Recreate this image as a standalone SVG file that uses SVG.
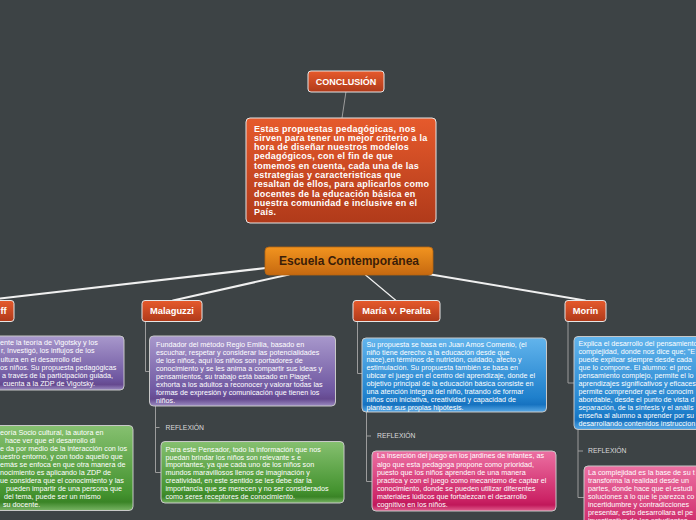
<svg xmlns="http://www.w3.org/2000/svg" width="696" height="520" viewBox="0 0 696 520">
<defs>
<linearGradient id="gRed" x1="0" y1="0" x2="0" y2="1"><stop offset="0" stop-color="#e65a2c"/><stop offset="1" stop-color="#b03a1a"/></linearGradient>
<linearGradient id="gOrange" x1="0" y1="0" x2="0" y2="1"><stop offset="0" stop-color="#f2941f"/><stop offset="1" stop-color="#c66910"/></linearGradient>
<linearGradient id="gPurple" x1="0" y1="0" x2="0" y2="1"><stop offset="0" stop-color="#a898cc"/><stop offset="0.8" stop-color="#6e56a0"/><stop offset="0.9" stop-color="#65498f"/><stop offset="1" stop-color="#9c8cc2"/></linearGradient>
<linearGradient id="gGreen" x1="0" y1="0" x2="0" y2="1"><stop offset="0" stop-color="#86c070"/><stop offset="0.8" stop-color="#44932f"/><stop offset="0.9" stop-color="#3a8426"/><stop offset="1" stop-color="#78b464"/></linearGradient>
<linearGradient id="gBlue" x1="0" y1="0" x2="0" y2="1"><stop offset="0" stop-color="#62b4ec"/><stop offset="0.8" stop-color="#1f80cc"/><stop offset="0.9" stop-color="#1672c0"/><stop offset="1" stop-color="#5aaae6"/></linearGradient>
<linearGradient id="gPink" x1="0" y1="0" x2="0" y2="1"><stop offset="0" stop-color="#ec70a2"/><stop offset="0.8" stop-color="#cc2466"/><stop offset="0.9" stop-color="#c0185a"/><stop offset="1" stop-color="#e2608f"/></linearGradient>
</defs>
<style>
.l1 rect{fill:url(#gRed);stroke:#e6e6e6;stroke-width:1}
.l1 text{font-family:"Liberation Sans",Arial,sans-serif;font-weight:bold;font-size:9.3px;fill:#fff;text-anchor:middle}
.box{stroke:#c8c8c8;stroke-width:1}
.t{font-family:"Liberation Sans",Arial,sans-serif;font-size:7.2px;fill:#fff}
.cb{font-family:"Liberation Sans",Arial,sans-serif;font-size:9px;letter-spacing:0.25px;font-weight:bold;fill:#fff}
.rf{font-family:"Liberation Sans",Arial,sans-serif;font-size:6.8px;fill:#dcdcdc}
.br{fill:none;stroke:#9c9c9c;stroke-width:1}
.main{fill:none;stroke:#f0f0f0;stroke-linecap:round}
</style>
<rect width="696" height="520" fill="#3d4345"/>

<g id="connectors">
<path class="main" d="M266 268 L0 298.5" stroke-width="2.2"/>
<path class="main" d="M289 274.5 L173 300.5" stroke-width="2"/>
<path class="main" d="M365 274.5 L396 300.5" stroke-width="1.2"/>
<path class="main" d="M428 274 L585 300.5" stroke-width="2"/>
<path class="br" d="M346 91.5 L342 118"/>
<path class="br" d="M145.5 321.5 V371.5 H149"/>
<path class="br" d="M155.5 406 V472.5 H161 M155.5 427.5 H159.5"/>
<path class="br" d="M357.5 321.5 V373.5 H362"/>
<path class="br" d="M366.5 412 V481.5 H372 M366.5 436 H371"/>
<path class="br" d="M568 321.5 V383 H574"/>
<path class="br" d="M578 429.5 V497.5 H584 M578 451 H583"/>
</g>

<g id="conclusion">
<rect x="308" y="71" width="76" height="21" rx="3" fill="url(#gRed)" stroke="#e6e6e6"/>
<text x="346" y="84.8" font-family="Liberation Sans,Arial,sans-serif" font-weight="bold" font-size="9px" fill="#fff" text-anchor="middle">CONCLUSIÓN</text>
</g>

<g id="conclusion-text">
<rect x="246" y="118" width="190" height="105" rx="4" fill="url(#gRed)" stroke="#e6e6e6"/>
<text class="cb">
<tspan x="254" y="131.5">Estas propuestas pedagógicas, nos</tspan>
<tspan x="254" y="140.8">sirven para tener un mejor criterio a la</tspan>
<tspan x="254" y="150.1">hora de diseñar nuestros modelos</tspan>
<tspan x="254" y="159.4">pedagógicos, con el fin de que</tspan>
<tspan x="254" y="168.7">tomemos en cuenta, cada una de las</tspan>
<tspan x="254" y="178">estrategias y caracteristicas que</tspan>
<tspan x="254" y="187.3">resaltan de ellos, para aplicarlos como</tspan>
<tspan x="254" y="196.6">docentes de la educación básica en</tspan>
<tspan x="254" y="205.9">nuestra comunidad e inclusive en el</tspan>
<tspan x="254" y="215.2">País.</tspan>
</text>
</g>

<g id="central">
<rect x="265" y="247" width="168" height="28" rx="4" fill="url(#gOrange)" stroke="#b86410" stroke-width="0.8"/>
<text x="349" y="265.3" font-family="Liberation Sans,Arial,sans-serif" font-weight="bold" font-size="12px" fill="#3b1d08" text-anchor="middle">Escuela Contemporánea</text>
</g>

<g id="n-rogoff" class="l1">
<rect x="-40" y="300.5" width="54" height="21" rx="3"/>
<text x="3.5" y="314.3">ff</text>
</g>
<g id="n-malaguzzi" class="l1">
<rect x="142" y="300.5" width="60" height="21" rx="3"/>
<text x="172" y="314.3">Malaguzzi</text>
</g>
<g id="n-peralta" class="l1">
<rect x="353" y="300.5" width="87" height="21" rx="3"/>
<text x="396.5" y="314.3">María V. Peralta</text>
</g>
<g id="n-morin" class="l1">
<rect x="565" y="300.5" width="41" height="21" rx="3"/>
<text x="585.5" y="314.3">Morin</text>
</g>

<g id="rogoff-desc">
<rect class="box" x="-60" y="336" width="184" height="54" rx="4" fill="url(#gPurple)"/>
<text class="t">
<tspan x="0" y="345.3">ente la teoría de Vigotsky y los</tspan>
<tspan x="1" y="353.4">r, Investigó, los influjos de los</tspan>
<tspan x="0.5" y="361.5">ultura en el desarrollo del</tspan>
<tspan x="0" y="369.6">os niños. Su propuesta pedagógicas</tspan>
<tspan x="2" y="377.7">a través de la participación guiada,</tspan>
<tspan x="3" y="385.8">cuenta a la ZDP de Vigotsky.</tspan>
</text>
</g>
<g id="rogoff-reflexion">
<rect class="box" x="-60" y="425.5" width="193" height="85" rx="4" fill="url(#gGreen)"/>
<text class="t">
<tspan x="0" y="435">eoría Socio cultural, la autora en</tspan>
<tspan x="5" y="443">hace ver que el desarrollo di</tspan>
<tspan x="0" y="451.1">e da por medio de la interacción con los</tspan>
<tspan x="0" y="459.1">uestro entorno, y con todo aquello que</tspan>
<tspan x="0" y="467.2">emás se enfoca en que otra manera de</tspan>
<tspan x="0" y="475.2">nocimiento es aplicando la ZDP de</tspan>
<tspan x="0" y="483.2">ue considera que el conocimiento y las</tspan>
<tspan x="6" y="491.3">pueden impartir de una persona que</tspan>
<tspan x="4" y="499.3">del tema, puede ser un mismo</tspan>
<tspan x="3" y="507.4">su docente.</tspan>
</text>
</g>

<g id="malaguzzi-desc">
<rect class="box" x="149.5" y="336" width="186" height="70" rx="4" fill="url(#gPurple)"/>
<text class="t">
<tspan x="156" y="346.9">Fundador del método Regio Emilia, basado en</tspan>
<tspan x="156" y="354.85">escuchar, respetar y considerar las potencialidades</tspan>
<tspan x="156" y="362.8">de los niños, aquí los niños son portadores de</tspan>
<tspan x="156" y="370.75">conocimiento y se les anima a compartir sus ideas y</tspan>
<tspan x="156" y="378.7">pensamientos, su trabajo está basado en Piaget,</tspan>
<tspan x="156" y="386.65">exhorta a los adultos a reconocer y valorar todas las</tspan>
<tspan x="156" y="394.6">formas de expresión y comunicación que tienen los</tspan>
<tspan x="156" y="402.55">niños.</tspan>
</text>
</g>
<g id="malaguzzi-label">
<text class="rf" x="165.5" y="429.8">REFLEXIÓN</text>
</g>
<g id="malaguzzi-reflexion">
<rect class="box" x="161" y="441.5" width="183" height="61.5" rx="4" fill="url(#gGreen)"/>
<text class="t">
<tspan x="165.5" y="451.6">Para este Pensador, todo la información que nos</tspan>
<tspan x="165.5" y="459.5">puedan brindar los niños son relevante s e</tspan>
<tspan x="165.5" y="467.4">importantes, ya que cada uno de los niños son</tspan>
<tspan x="165.5" y="475.3">mundos maravillosos llenos de imaginación y</tspan>
<tspan x="165.5" y="483.2">creatividad, en este sentido se les debe dar la</tspan>
<tspan x="165.5" y="491.1">importancia que se merecen y no ser considerados</tspan>
<tspan x="165.5" y="499">como seres receptores de conocimiento.</tspan>
</text>
</g>

<g id="peralta-desc">
<rect class="box" x="362" y="338" width="184.5" height="74" rx="4" fill="url(#gBlue)"/>
<text class="t">
<tspan x="366.5" y="346.6">Su propuesta se basa en Juan Amos Comenio, (el</tspan>
<tspan x="366.5" y="354.5">niño tiene derecho a la educación desde que</tspan>
<tspan x="366.5" y="362.4">nace),en términos de nutrición, cuidado, afecto y</tspan>
<tspan x="366.5" y="370.4">estimulación. Su propuesta también se basa en</tspan>
<tspan x="366.5" y="378.3">ubicar el juego en el centro del aprendizaje, donde el</tspan>
<tspan x="366.5" y="386.2">objetivo principal de la educación básica consiste en</tspan>
<tspan x="366.5" y="394.1">una atención integral del niño, tratando de formar</tspan>
<tspan x="366.5" y="402">niños con iniciativa, creatividad y capacidad de</tspan>
<tspan x="366.5" y="410">plantear sus propias hipótesis.</tspan>
</text>
</g>
<g id="peralta-label">
<text class="rf" x="377" y="438.3">REFLEXIÓN</text>
</g>
<g id="peralta-reflexion">
<rect class="box" x="372" y="451" width="184" height="60" rx="4" fill="url(#gPink)"/>
<text class="t">
<tspan x="377" y="458.3">La inserción del juego en los jardines de infantes, as</tspan>
<tspan x="377" y="466.5">algo que esta pedagoga propone como prioridad,</tspan>
<tspan x="377" y="474.6">puesto que los niños aprenden de una manera</tspan>
<tspan x="377" y="482.8">practica y con el juego como mecanismo de captar el</tspan>
<tspan x="377" y="491">conocimiento, donde se pueden utilizar diferentes</tspan>
<tspan x="377" y="499.1">materiales lúdicos que fortalezcan el desarrollo</tspan>
<tspan x="377" y="507.3">cognitivo en los niños.</tspan>
</text>
</g>

<g id="morin-desc">
<rect class="box" x="574" y="336.5" width="160" height="93" rx="4" fill="url(#gBlue)"/>
<text class="t">
<tspan x="578.5" y="346">Explica el desarrollo del pensamiento</tspan>
<tspan x="578.5" y="354">complejidad, donde nos dice que; "E</tspan>
<tspan x="578.5" y="361.9">puede explicar siempre desde cada</tspan>
<tspan x="578.5" y="369.9">que lo compone. El alumno: el proc</tspan>
<tspan x="578.5" y="377.9">pensamiento complejo, permite el lo</tspan>
<tspan x="578.5" y="385.9">aprendizajes significativos y eficaces</tspan>
<tspan x="578.5" y="393.8">permite comprender que el conocim</tspan>
<tspan x="578.5" y="401.8">abordable, desde el punto de vista d</tspan>
<tspan x="578.5" y="409.8">separación, de la síntesis y el anális</tspan>
<tspan x="578.5" y="417.7">enseña al alumno a aprender por su</tspan>
<tspan x="578.5" y="425.7">desarrollando contenidos instruccion</tspan>
</text>
</g>
<g id="morin-label">
<text class="rf" x="588" y="453.4">REFLEXIÓN</text>
</g>
<g id="morin-reflexion">
<rect class="box" x="584" y="466" width="150" height="80" rx="4" fill="url(#gPink)"/>
<text class="t">
<tspan x="588" y="475.3">La complejidad es la base de su t</tspan>
<tspan x="588" y="483.3">transforma la realidad  desde un</tspan>
<tspan x="588" y="491.3">partes, donde hace que el estudi</tspan>
<tspan x="588" y="499.3">soluciones a lo que le parezca co</tspan>
<tspan x="588" y="507.3">incertidumbre y contradicciones</tspan>
<tspan x="588" y="515.3">presentar, esto desarrollara el pe</tspan>
<tspan x="588" y="523.3">investigativo de los estudiantes</tspan>
</text>
</g>
</svg>
